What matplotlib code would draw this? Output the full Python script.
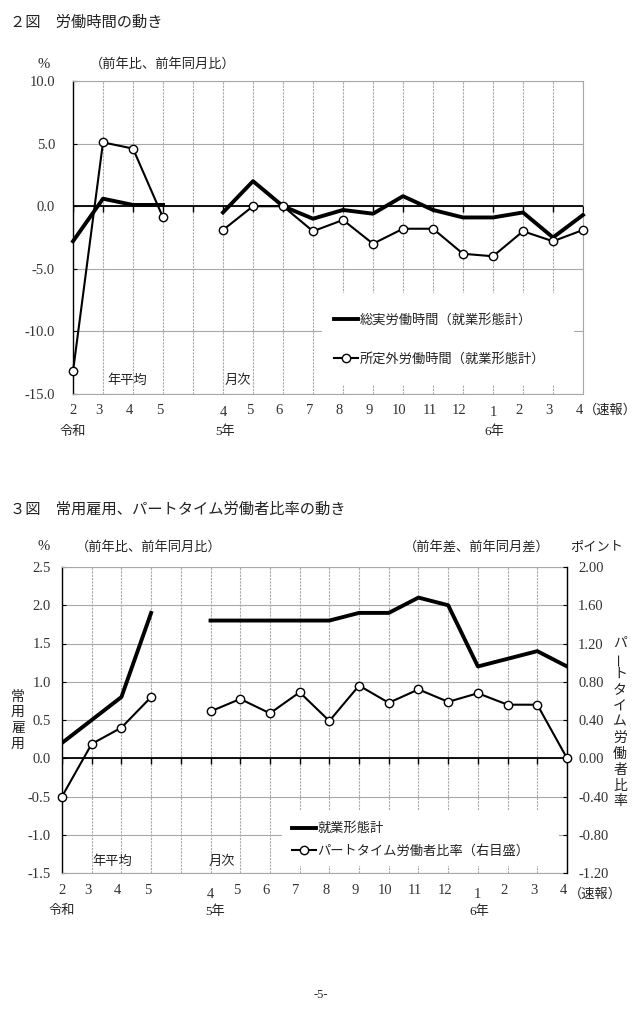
import numpy as np
import matplotlib
matplotlib.use("Agg")
import matplotlib.pyplot as plt
from matplotlib.lines import Line2D
from matplotlib.patches import Rectangle
from matplotlib.transforms import blended_transform_factory

plt.rcParams['font.family'] = ['Liberation Serif', 'Noto Sans CJK JP']
plt.rcParams['text.color'] = '#222222'

# positions 0-3: 令和2-5年 (年平均), 4: gap, 5-17: 5年4月 - 6年4月 (月次)
x_labels = ['2', '3', '4', '5', '', '4', '5', '6', '7', '8', '9', '10', '11', '12', '1', '2', '3', '4']
nan = np.nan

# 2図
total_hours = [-2.8, 0.6, 0.1, 0.1, nan, -0.5, 2.0, 0.0, -1.0, -0.3, -0.6, 0.8, -0.3, -0.9, -0.9, -0.5, -2.5, -0.7]
overtime_hours = [-13.2, 5.1, 4.6, -0.9, nan, -1.9, 0.0, 0.0, -2.0, -1.1, -3.0, -1.8, -1.8, -3.8, -4.0, -2.0, -2.8, -1.9]
yticks_top = [10, 5, 0, -5, -10, -15]

# 3図
employment = [0.2, 0.5, 0.8, 1.9, nan, 1.8, 1.8, 1.8, 1.8, 1.8, 1.9, 1.9, 2.1, 2.0, 1.2, 1.3, 1.4, 1.2]
part_ratio = [-0.40, 0.15, 0.32, 0.64, nan, 0.49, 0.62, 0.47, 0.69, 0.39, 0.76, 0.58, 0.72, 0.59, 0.68, 0.56, 0.56, 0.00]
yticks_left = [2.5, 2.0, 1.5, 1.0, 0.5, 0.0, -0.5, -1.0, -1.5]
yticks_right = [2.0, 1.6, 1.2, 0.8, 0.4, 0.0, -0.4, -0.8, -1.2]

W, H = 642, 1019
fig = plt.figure(figsize=(W / 100, H / 100), dpi=100)


def fx(x):
    return x / W


def fy(y):
    return 1 - y / H


def txt(x, y, s, size=9.5, **kw):
    fig.text(fx(x), fy(y), s, fontsize=size, va='center', **kw)


x = np.arange(len(x_labels))
GRID = '#a8a8a8'


def base(ax, yticks, fmt, pad):
    ax.set_xlim(0, 17)
    ax.set_ylim(min(yticks), max(yticks))
    ax.set_xticks(x)
    ax.set_xticklabels([])
    ax.set_yticks(yticks)
    ax.set_yticklabels([fmt.format(v) for v in yticks])
    ax.tick_params(axis='x', length=0)
    ax.tick_params(axis='y', direction='in', length=3, pad=pad, labelsize=10.5,
                   labelcolor='#333333')
    ax.xaxis.grid(True, color=GRID, lw=0.8, ls=(0, (2, 1)))
    ax.yaxis.grid(True, color=GRID, lw=0.8)
    ax.set_axisbelow(True)
    for s in ['top', 'right', 'bottom']:
        ax.spines[s].set_color(GRID)
        ax.spines[s].set_linewidth(0.8)
    ax.spines['left'].set_color('black')
    ax.spines['left'].set_linewidth(1.0)
    ax.axhline(0, color='black', lw=1.3, zorder=3)
    ax.plot(x, np.zeros(len(x)), ls='none', marker=3, ms=4, mew=1.0, color='black', zorder=3)


def xlabels(ax, ypx):
    tr = blended_transform_factory(ax.transData, fig.transFigure)
    for i, lab in enumerate(x_labels):
        if not lab:
            continue
        dx, dy = -0.12, 0
        if i == 0:
            dx = 0
        if i in (5, 14):
            dx, dy = 0, 3
        ax.text(i + dx, fy(ypx + dy), lab, transform=tr, ha='center', va='center',
                fontsize=10.5, color='#333333')


# ---------- 2図 ----------
txt(10, 23, '２図　労働時間の動き', size=11)
txt(44, 65, '%', size=10.5, ha='center')
txt(90, 64, '（前年比、前年同月比）')

ax1 = fig.add_axes([fx(73), fy(394), fx(583) - fx(73), fy(81) - fy(394)])
base(ax1, yticks_top, '{:.1f}', 13)
ax1.plot(x, total_hours, color='black', lw=2.8, zorder=5, clip_on=False)
ax1.plot(x, overtime_hours, color='black', lw=1.5, marker='o', ms=6,
         mfc='white', mec='black', mew=1.0, zorder=6, clip_on=False)

ax1.add_patch(Rectangle((0.488, 0.029), 0.494, 0.294, transform=ax1.transAxes,
                        facecolor='white', edgecolor='none', zorder=2))
h1 = [Line2D([], [], color='black', lw=2.8),
      Line2D([], [], color='black', lw=1.5, marker='o', ms=6, mfc='white', mec='black')]
ax1.legend(h1, ['総実労働時間（就業形態計）', '所定外労働時間（就業形態計）'],
           loc='center left', bbox_to_anchor=(0.512, 0.173), frameon=False,
           fontsize=9.5, handlelength=1.8, handletextpad=0.15, labelspacing=2.0,
           borderpad=0, borderaxespad=0, numpoints=1)

txt(107, 381, '年平均')
txt(225, 381, '月次')
xlabels(ax1, 410)
txt(73, 432, '令和', ha='center')
txt(225, 432, '5年', ha='center')
txt(494, 432, '6年', ha='center')
txt(584, 410, '（速報）')

# ---------- 3図 ----------
txt(10, 510, '３図　常用雇用、パートタイム労働者比率の動き', size=11)
txt(44, 547, '%', size=10.5, ha='center')
txt(76, 547, '（前年比、前年同月比）')
txt(404, 547, '（前年差、前年同月差）')
txt(570, 547, 'ポイント')

ax2 = fig.add_axes([fx(62), fy(873), fx(567) - fx(62), fy(567) - fy(873)])
base(ax2, yticks_left, '{:.1f}', 8)
ax2.plot(x, employment, color='black', lw=2.8, zorder=5)

ax2r = ax2.twinx()
ax2r.set_ylim(min(yticks_right), max(yticks_right))
ax2r.set_yticks(yticks_right)
ax2r.set_yticklabels(['{:.2f}'.format(v) for v in yticks_right])
ax2r.tick_params(axis='y', direction='in', length=3, pad=8, labelsize=10.5,
                 labelcolor='#333333')
for s in ['top', 'left', 'bottom']:
    ax2r.spines[s].set_visible(False)
ax2r.spines['right'].set_color('black')
ax2r.spines['right'].set_linewidth(1.0)
ax2r.plot(x, part_ratio, color='black', lw=1.5, marker='o', ms=6,
          mfc='white', mec='black', mew=1.0, zorder=6, clip_on=False)

ax2r.add_patch(Rectangle((0.435, 0.023), 0.549, 0.183, transform=ax2r.transAxes,
                         facecolor='white', edgecolor='none', zorder=2))
h2 = [Line2D([], [], color='black', lw=2.8),
      Line2D([], [], color='black', lw=1.5, marker='o', ms=6, mfc='white', mec='black')]
ax2r.legend(h2, ['就業形態計', 'パートタイム労働者比率（右目盛）'],
            loc='center left', bbox_to_anchor=(0.455, 0.108), frameon=False,
            fontsize=9.5, handlelength=1.8, handletextpad=0.15, labelspacing=0.7,
            borderpad=0, borderaxespad=0, numpoints=1)

for k, ch in enumerate('常用雇用'):
    txt(18, 697 + 15.6 * k, ch, size=10, ha='center')
for k, ch in enumerate('パートタイム労働者比率'):
    txt(620, 643 + 15.9 * k, ch, size=10, ha='center', rotation=90 if ch == 'ー' else 0)

txt(92, 862, '年平均')
txt(209, 862, '月次')
xlabels(ax2, 891)
txt(62, 911, '令和', ha='center')
txt(215, 912, '5年', ha='center')
txt(479, 912, '6年', ha='center')
txt(569, 894, '（速報）')

txt(321, 995, '-5-', size=9, ha='center')

fig.savefig('out.png', dpi=100)
